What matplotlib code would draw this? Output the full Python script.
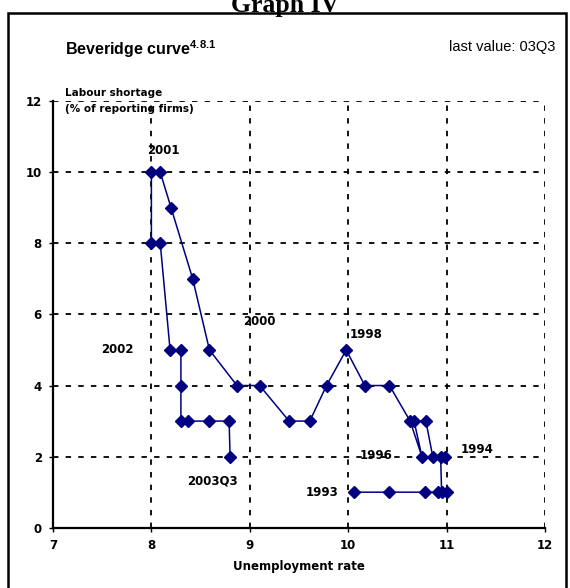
import matplotlib
matplotlib.use('Agg')
import matplotlib.pyplot as plt
from matplotlib.patches import Rectangle

plt.rcParams['font.family'] = ['Liberation Sans', 'DejaVu Sans']

# unemployment rate / labour shortage, 1993 -> 2003Q3
unemp = [10.06, 10.42, 10.78, 10.91, 11.0, 10.95, 10.94, 10.98, 10.86, 10.79,
         10.67, 10.75, 10.63, 10.42, 10.17, 9.98, 9.78, 9.61, 9.40, 9.10,
         8.87, 8.59, 8.42, 8.20, 8.09, 8.00, 8.00, 8.09, 8.19, 8.30,
         8.30, 8.30, 8.37, 8.59, 8.79, 8.80]
shortage = [1, 1, 1, 1, 1, 1, 2, 2, 2, 3,
            3, 2, 3, 4, 4, 5, 4, 3, 3, 4,
            4, 5, 7, 9, 10, 10, 8, 8, 5, 5,
            4, 3, 3, 3, 3, 2]

point_labels = ['2001', '2002', '2000', '1998', '1996', '1994', '1993', '2003Q3']
label_x = [8.12, 7.65, 9.10, 10.18, 10.28, 11.31, 9.73, 8.62]
label_y = [10.6, 5.0, 5.8, 5.43, 2.03, 2.2, 1.0, 1.31]

bold_font = ['DejaVu Sans']

fig = plt.figure(figsize=(5.7, 5.88), dpi=100)
ax = fig.add_axes([0.093, 0.1025, 0.863, 0.7255])

ax.plot(unemp, shortage, color='#000080', lw=1.1, marker='D', ms=6.5)

for t, x, y in zip(point_labels, label_x, label_y):
    ax.text(x, y, t, fontsize=8.5, fontweight='bold', family=bold_font,
            ha='center', va='center')

ax.set_xlim(7, 12)
ax.set_ylim(0, 12)
ax.set_xticks(range(7, 13))
ax.set_yticks(range(0, 13, 2))
ax.grid(True, color='black', linestyle=(0, (3, 4)), lw=1.3)
ax.spines['top'].set_visible(False)
ax.spines['right'].set_visible(False)
ax.spines['left'].set_linewidth(1.6)
ax.spines['bottom'].set_linewidth(1.6)
ax.tick_params(length=3, width=1, labelsize=8.5, pad=5)
for lb in ax.get_xticklabels() + ax.get_yticklabels():
    lb.set_fontweight('bold')
    lb.set_family(bold_font)
ax.set_xlabel('Unemployment rate', fontsize=8.5, fontweight='bold',
              family=bold_font, labelpad=6)

ax.text(0.025, 1.0, 'Labour shortage\n(% of reporting firms)', transform=ax.transAxes,
        fontsize=7.5, fontweight='bold', family=bold_font, ha='left', va='center',
        linespacing=1.8)

fig.text(0.114, 1 - 55 / 588, r'Beveridge curve$^{\mathregular{4.8.1}}$', fontsize=11.5,
         fontweight='bold', ha='left', va='baseline')
fig.text(0.975, 1 - 51 / 588, 'last value: 03Q3', fontsize=10.5, ha='right', va='baseline')

fig.text(0.5, 1 - 12 / 588, 'Graph IV', fontsize=18.5, fontweight='bold',
         family='Liberation Serif', ha='center', va='baseline')

fig.patches.append(Rectangle((8 / 570, -0.01), 558 / 570, 1 - 13 / 588 + 0.01,
                             transform=fig.transFigure, fill=False, lw=1.8,
                             edgecolor='black'))

fig.savefig('out.png', dpi=100)
